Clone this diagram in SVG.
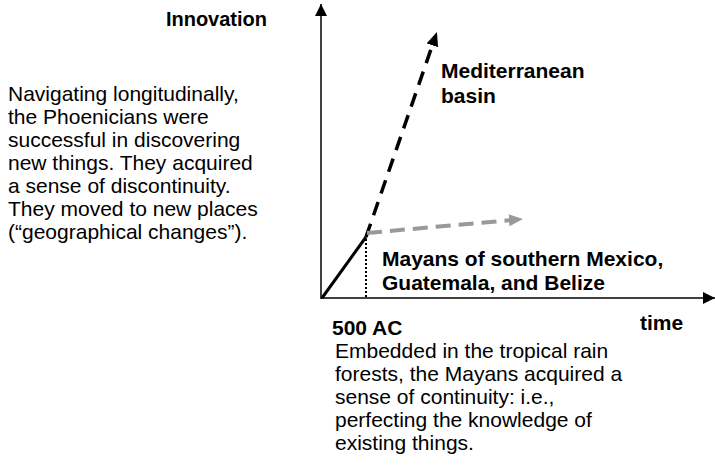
<svg xmlns="http://www.w3.org/2000/svg" width="715" height="469" viewBox="0 0 715 469">
<style>
.t{font-family:"Liberation Sans",Arial,Helvetica,sans-serif;font-size:21px;fill:#000}
.b{font-weight:bold}
.ax{stroke:#000;stroke-width:1.5;fill:none}
</style>
<defs>
<marker id="ah" markerWidth="12" markerHeight="12" refX="12" refY="6" orient="auto" markerUnits="userSpaceOnUse">
<path d="M0,0 L12,6 L0,12 Z" fill="#000"/>
</marker>
<marker id="ahb" markerWidth="14" markerHeight="12" refX="1" refY="6" orient="auto" markerUnits="userSpaceOnUse">
<path d="M0,0 L14,6 L0,12 Z" fill="#000"/>
</marker>
<marker id="ahg" markerWidth="14" markerHeight="12" refX="1" refY="6" orient="auto" markerUnits="userSpaceOnUse">
<path d="M0,0 L14,6 L0,12 Z" fill="#999"/>
</marker>
</defs>
<g id="connectors">
<line id="y-axis" class="ax" x1="321" y1="299" x2="321" y2="4" marker-end="url(#ah)"/>
<line id="x-axis" class="ax" x1="321" y1="298" x2="715" y2="298" marker-end="url(#ah)"/>
<line id="solid" x1="322" y1="298" x2="366" y2="237" stroke="#000" stroke-width="3"/>
<line id="dotted" x1="366" y1="239" x2="366" y2="298" stroke="#000" stroke-width="2" stroke-dasharray="2,2"/>
<line id="black-dash" x1="366" y1="237" x2="432.7" y2="44.3" stroke="#000" stroke-width="3.5" stroke-dasharray="14,9" marker-end="url(#ahb)"/>
<line id="gray-dash" x1="367" y1="233" x2="510" y2="220.2" stroke="#999" stroke-width="4" stroke-dasharray="15,8" marker-end="url(#ahg)"/>
</g>
<g id="innovation"><text class="t b" x="267" y="26" text-anchor="end" style="font-size:20px">Innovation</text></g>
<g id="phoenicians">
<text class="t" x="8" y="101">Navigating longitudinally,</text>
<text class="t" x="8" y="124">the Phoenicians were</text>
<text class="t" x="8" y="147">successful in discovering</text>
<text class="t" x="8" y="170">new things. They acquired</text>
<text class="t" x="8" y="193">a sense of discontinuity.</text>
<text class="t" x="8" y="216">They moved to new places</text>
<text class="t" x="8" y="239">(“geographical changes”).</text>
</g>
<g id="mediterranean">
<text class="t b" x="441" y="78">Mediterranean</text>
<text class="t b" x="441" y="103">basin</text>
</g>
<g id="mayans">
<text class="t b" x="382" y="266">Mayans of southern Mexico,</text>
<text class="t b" x="382" y="290">Guatemala, and Belize</text>
</g>
<g id="ac500"><text class="t b" x="332" y="335">500 AC</text></g>
<g id="time"><text class="t b" x="640" y="330">time</text></g>
<g id="mayans-text">
<text class="t" x="335" y="358">Embedded in the tropical rain</text>
<text class="t" x="335" y="381">forests, the Mayans acquired a</text>
<text class="t" x="335" y="404">sense of continuity: i.e.,</text>
<text class="t" x="335" y="427">perfecting the knowledge of</text>
<text class="t" x="335" y="450">existing things.</text>
</g>
</svg>
